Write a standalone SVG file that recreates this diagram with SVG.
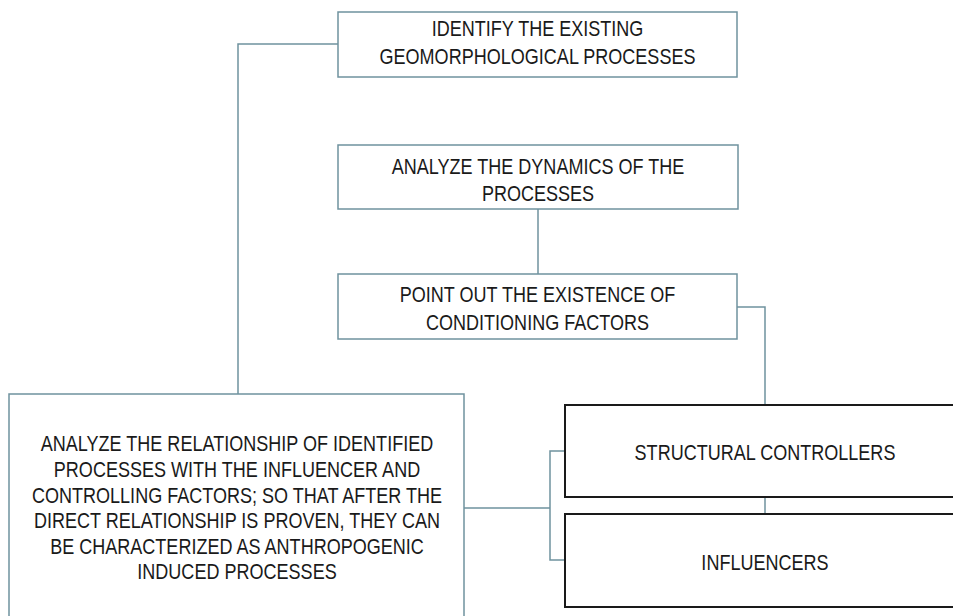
<svg xmlns="http://www.w3.org/2000/svg" width="953" height="616" viewBox="0 0 953 616">
<style>
.bx{fill:#fff;stroke:#6f929e;stroke-width:1.5}
.bk{fill:#fff;stroke:#1a1a1a;stroke-width:2}
.cn{fill:none;stroke:#6f929e;stroke-width:1.5}
text{font-family:"Liberation Sans",Arial,sans-serif;font-size:22px;fill:#1a1a1a;text-anchor:middle}
</style>
<rect width="953" height="616" fill="#fff"/>
<g id="connectors">
<path class="cn" d="M338 44H238V394"/>
<path class="cn" d="M538 209V274"/>
<path class="cn" d="M737 307H765V405"/>
<path class="cn" d="M765 497V514"/>
<path class="cn" d="M464 508H550M565 451H550V560H565"/>
</g>
<g id="n1">
<rect class="bx" x="338" y="12" width="399" height="65"/>
<text transform="translate(537.5,36) scale(0.82,1)">IDENTIFY THE EXISTING</text>
<text transform="translate(537.5,64) scale(0.82,1)">GEOMORPHOLOGICAL PROCESSES</text>
</g>
<g id="n2">
<rect class="bx" x="338" y="145" width="400" height="64"/>
<text transform="translate(538,174) scale(0.82,1)">ANALYZE THE DYNAMICS OF THE</text>
<text transform="translate(538,201) scale(0.82,1)">PROCESSES</text>
</g>
<g id="n3">
<rect class="bx" x="338" y="274" width="399" height="65"/>
<text transform="translate(537.5,302) scale(0.82,1)">POINT OUT THE EXISTENCE OF</text>
<text transform="translate(537.5,330) scale(0.82,1)">CONDITIONING FACTORS</text>
</g>
<g id="n4">
<rect class="bx" x="9" y="394" width="455" height="240"/>
<text transform="translate(237,451) scale(0.82,1)">ANALYZE THE RELATIONSHIP OF IDENTIFIED</text>
<text transform="translate(237,477) scale(0.82,1)">PROCESSES WITH THE INFLUENCER AND</text>
<text transform="translate(237,503) scale(0.82,1)">CONTROLLING FACTORS; SO THAT AFTER THE</text>
<text transform="translate(237,528) scale(0.82,1)">DIRECT RELATIONSHIP IS PROVEN, THEY CAN</text>
<text transform="translate(237,554) scale(0.82,1)">BE CHARACTERIZED AS ANTHROPOGENIC</text>
<text transform="translate(237,579) scale(0.82,1)">INDUCED PROCESSES</text>
</g>
<g id="n5">
<rect class="bk" x="565" y="405" width="400" height="92"/>
<text transform="translate(765,460) scale(0.82,1)">STRUCTURAL CONTROLLERS</text>
</g>
<g id="n6">
<rect class="bk" x="565" y="514" width="400" height="93"/>
<text transform="translate(765,570) scale(0.82,1)">INFLUENCERS</text>
</g>
</svg>
